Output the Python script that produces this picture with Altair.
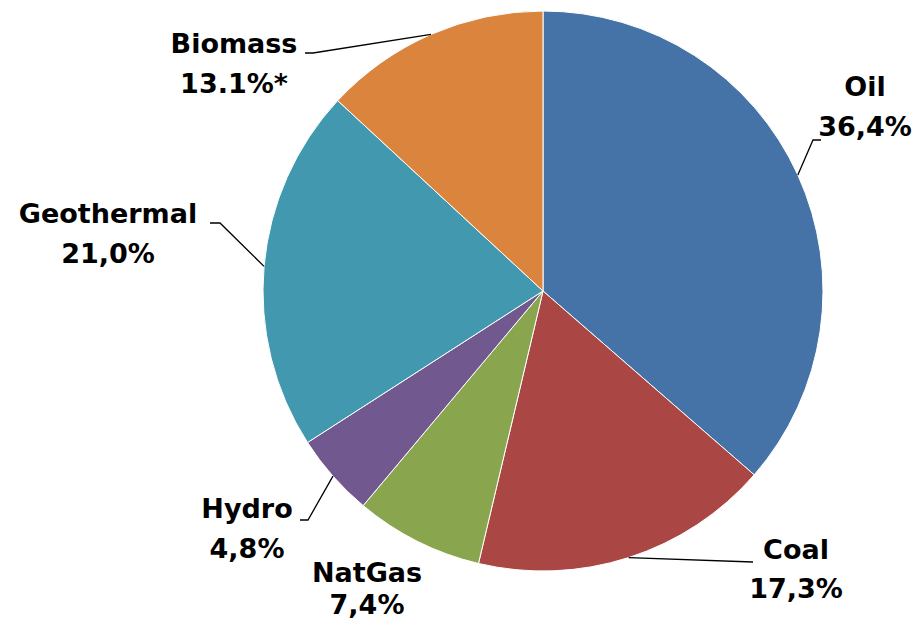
import altair as alt
import pandas as pd
import numpy as np

# ---- data ----
categories = ["Oil", "Coal", "NatGas", "Hydro", "Geothermal", "Biomass"]
shares = [36.4, 17.3, 7.4, 4.8, 21.0, 13.1]
value_labels = ["36,4%", "17,3%", "7,4%", "4,8%", "21,0%", "13.1%*"]
colors = ["#4572A7", "#AA4643", "#89A54E", "#71588F", "#4198AF", "#DB843D"]

# ---- layout (pie-relative pixel offsets, y up) ----
W, H = 904, 613
CX, CY = 535, 283          # pie centre inside the plot area
R = 280
# (x, name y, value y)
label_pos = {"Oil": (322, 203, 163), "Coal": (253, -260, -299),
             "NatGas": (-176, -283, -315), "Hydro": (-296, -219, -259),
             "Geothermal": (-435, 76, 36), "Biomass": (-309, 246, 206)}
leader_knees = {"Oil": [(270, 151), (278, 151)],
                "Coal": [(210, -271)],
                "Hydro": [(-235, -229), (-243, -229)],
                "Geothermal": [(-323, 68), (-333, 68)],
                "Biomass": [(-230, 238), (-238, 238)]}

df = pd.DataFrame({"cat": categories, "share": shares, "idx": range(len(categories)),
                   "vlabel": value_labels})

# leader lines: start on pie edge at slice mid-angle
total = sum(shares)
cum = np.cumsum([0] + shares[:-1])
rows = []
for c, s, start in zip(categories, shares, cum):
    if c not in leader_knees:
        continue
    a = (start + s / 2) / total * 2 * np.pi
    pts = [(R * np.sin(a), R * np.cos(a))] + leader_knees[c]
    for k, (px, py) in enumerate(pts):
        rows.append({"cat": c, "k": k, "x": px, "y": py})
lines_df = pd.DataFrame(rows)

lab_rows = []
for c, v in zip(categories, value_labels):
    lx, ny, vy = label_pos[c]
    lab_rows.append({"cat": c, "txt": c, "x": lx, "y": ny})
    lab_rows.append({"cat": c, "txt": v, "x": lx, "y": vy})
labels_df = pd.DataFrame(lab_rows)

xs = alt.Scale(domain=[-CX, W - CX])
ys = alt.Scale(domain=[-(H - CY), CY])

pie = alt.Chart(df).mark_arc(radius=R, stroke="white", strokeWidth=1).encode(
    theta=alt.Theta("share:Q", stack=True),
    order=alt.Order("idx:Q"),
    color=alt.Color("cat:N", scale=alt.Scale(domain=categories, range=colors), legend=None),
    x=alt.value(CX), y=alt.value(CY),
)

leaders = alt.Chart(lines_df).mark_line(color="black", strokeWidth=1.3).encode(
    x=alt.X("x:Q", scale=xs, axis=None),
    y=alt.Y("y:Q", scale=ys, axis=None),
    detail="cat:N",
    order="k:Q",
)

texts = alt.Chart(labels_df).mark_text(
    font="DejaVu Sans", fontWeight="bold", fontSize=27, color="black",
    align="center", baseline="middle",
).encode(
    x=alt.X("x:Q", scale=xs, axis=None),
    y=alt.Y("y:Q", scale=ys, axis=None),
    text="txt:N",
)

chart = alt.layer(pie, leaders, texts).properties(
    width=W, height=H, padding=0, autosize="none"
).configure_view(stroke=None)

chart.save("out.html", embed_options={"renderer": "svg", "actions": False})
